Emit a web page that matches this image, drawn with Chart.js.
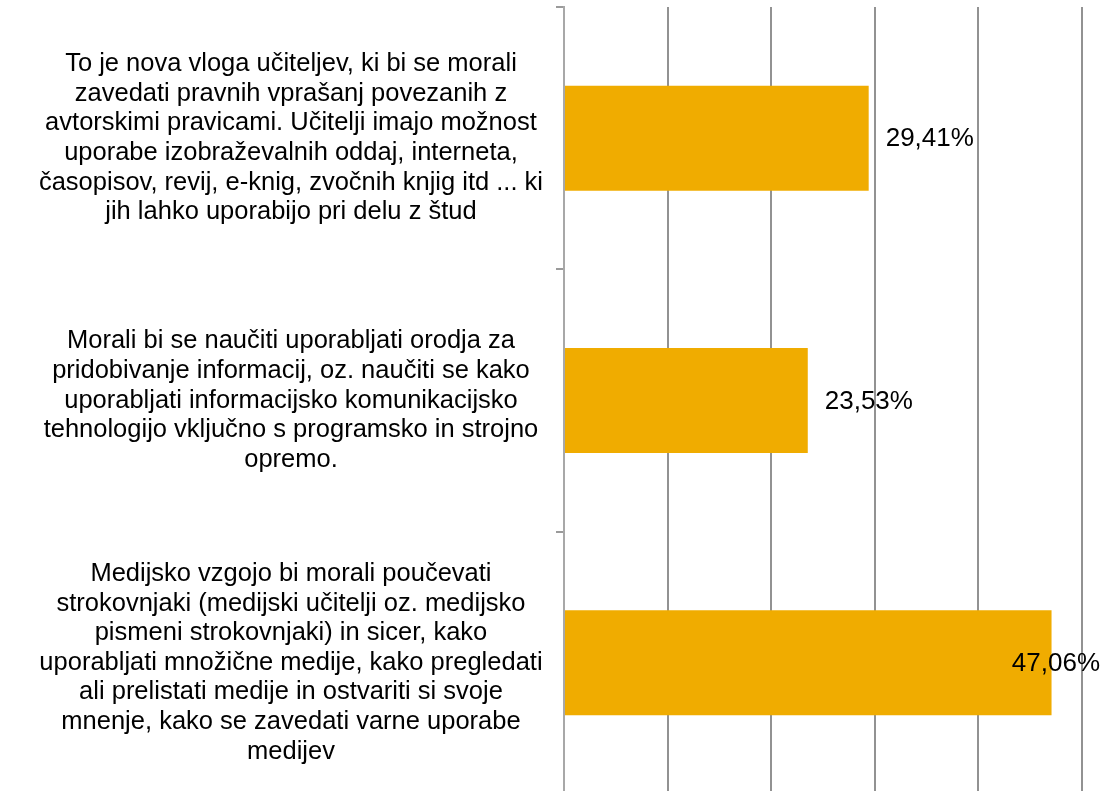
<!DOCTYPE html>
<html>
<head>
<meta charset="utf-8">
<script src="https://cdn.jsdelivr.net/npm/chart.js@4/dist/chart.umd.min.js"></script>
<style>
    html, body { margin: 0; padding: 0; background: #fff; overflow: hidden; }
    #wrap { position: relative; width: 1103px; height: 800px; }
</style>
</head>
<body>
<div id="wrap"><canvas id="chart"></canvas></div>
<script>
/* ── podatki ── */
const categories = [
    ['To je nova vloga učiteljev, ki bi se morali',
     'zavedati pravnih vprašanj povezanih z',
     'avtorskimi pravicami. Učitelji imajo možnost',
     'uporabe izobraževalnih oddaj, interneta,',
     'časopisov, revij, e-knig, zvočnih knjig itd ... ki',
     'jih lahko uporabijo pri delu z štud'],
    ['Morali bi se naučiti uporabljati orodja za',
     'pridobivanje informacij, oz. naučiti se kako',
     'uporabljati informacijsko komunikacijsko',
     'tehnologijo vključno s programsko in strojno',
     'opremo.'],
    ['Medijsko vzgojo bi morali poučevati',
     'strokovnjaki (medijski učitelji oz. medijsko',
     'pismeni strokovnjaki) in sicer, kako',
     'uporabljati množične medije, kako pregledati',
     'ali prelistati medije in ostvariti si svoje',
     'mnenje, kako se zavedati varne uporabe',
     'medijev'],
];
const values = [29.41, 23.53, 47.06];
const xTicks = [0, 10, 20, 30, 40, 50];

const FONT = '"Liberation Sans", Arial, sans-serif';

// oznake vrednosti desno od stolpca (zadnja se stisne v platno)
const valueLabels = {
    id: 'valueLabels',
    afterDatasetsDraw(chart) {
        const ctx = chart.ctx;
        const meta = chart.getDatasetMeta(0);
        ctx.save();
        ctx.font = '26px ' + FONT;
        ctx.fillStyle = '#000';
        ctx.textBaseline = 'middle';
        ctx.textAlign = 'left';
        meta.data.forEach((bar, i) => {
            const txt = values[i].toFixed(2).replace('.', ',') + '%';
            const w = ctx.measureText(txt).width;
            let x = bar.x + 17;
            if (x + w > chart.width - 3) x = chart.width - 3 - w;
            ctx.fillText(txt, x, bar.y + 1);
        });
        ctx.restore();
    },
};

new Chart(document.getElementById('chart'), {
    type: 'bar',
    data: {
        labels: categories,
        datasets: [{
            data: values,
            backgroundColor: '#F0AC00',
            borderWidth: 0,
            barPercentage: 0.4,
            categoryPercentage: 1,
        }],
    },
    options: {
        indexAxis: 'y',
        responsive: true,
        maintainAspectRatio: false,
        animation: false,
        layout: { padding: { top: 7, bottom: 6, right: 21, left: 0 } },
        plugins: { legend: { display: false }, tooltip: { enabled: false } },
        scales: {
            x: {
                min: xTicks[0],
                max: xTicks[xTicks.length - 1],
                afterBuildTicks: s => { s.ticks = xTicks.map(v => ({ value: v })); },
                ticks: { display: false },
                grid: { color: '#929292', lineWidth: 2, drawTicks: false },
                border: { display: false },
            },
            y: {
                afterFit: s => { s.width = 564; s.paddingTop = 0; s.paddingBottom = 0; },
                ticks: {
                    crossAlign: 'center',
                    padding: 13,
                    color: '#000',
                    font: { family: FONT, size: 25.5, lineHeight: 1.16 },
                },
                grid: { drawOnChartArea: false, tickLength: 8, color: '#9a9a9a', lineWidth: 2, offset: true },
                border: { color: '#a8a8a8', width: 2 },
            },
        },
    },
    plugins: [valueLabels],
});
</script>
</body>
</html>
